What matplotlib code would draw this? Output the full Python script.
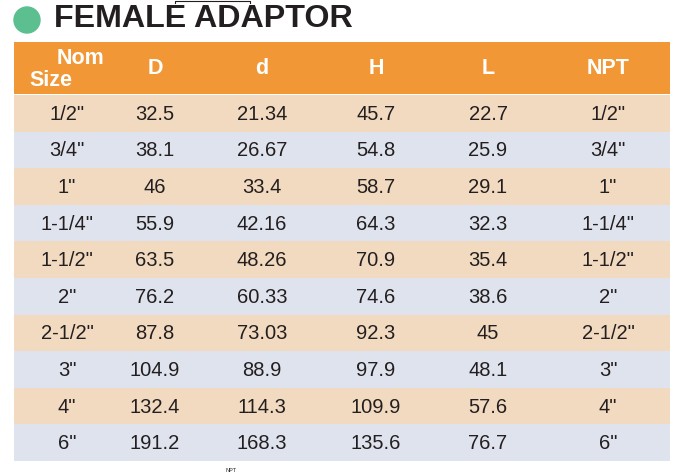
import matplotlib.pyplot as plt
from matplotlib.patches import Rectangle, Circle

# Dados da tabela
columns = ["D", "d", "H", "L", "NPT"]
nom_size = ['1/2"', '3/4"', '1"', '1-1/4"', '1-1/2"', '2"', '2-1/2"', '3"', '4"', '6"']
D = ["32.5", "38.1", "46", "55.9", "63.5", "76.2", "87.8", "104.9", "132.4", "191.2"]
d = ["21.34", "26.67", "33.4", "42.16", "48.26", "60.33", "73.03", "88.9", "114.3", "168.3"]
H = ["45.7", "54.8", "58.7", "64.3", "70.9", "74.6", "92.3", "97.9", "109.9", "135.6"]
L = ["22.7", "25.9", "29.1", "32.3", "35.4", "38.6", "45", "48.1", "57.6", "76.7"]
NPT = nom_size

title = "FEMALE ADAPTOR"

# Cores
orange = "#F29735"
peach = "#F2DAC0"
bluegray = "#DFE3ED"
green = "#5BBF8F"

fig = plt.figure(figsize=(6.84, 4.75), dpi=100)
ax = fig.add_axes([0, 0, 1, 1])
ax.set_xlim(0, 684)
ax.set_ylim(475, 0)
ax.axis("off")

fam = ["Liberation Sans", "DejaVu Sans"]

# Titulo
ax.add_patch(Circle((27, 20), 13, color=green))
ax.text(54, 19, title, fontsize=23.2, fontweight="bold", color="#231F20",
        va="center", ha="left", family=fam)

left, right = 14, 670
head_top, head_bot = 42, 94
row_h = 36.6
col_x = [67, 155, 262, 376, 488, 608]

# Cabecalho
ax.add_patch(Rectangle((left, head_top), right - left, head_bot - head_top, color=orange, lw=0))
ax.text(81, 58, "Nom", fontsize=15.5, fontweight="bold", color="white", ha="center", va="center", family=fam)
ax.text(51, 80, "Size", fontsize=15.5, fontweight="bold", color="white", ha="center", va="center", family=fam)
for x, c in zip(col_x[1:], columns):
    ax.text(x, 69, c, fontsize=15.5, fontweight="bold", color="white", ha="center", va="center", family=fam)

# Linhas
table = list(zip(nom_size, D, d, H, L, NPT))
for i, row in enumerate(table):
    y0 = head_bot + 1 + i * row_h
    ax.add_patch(Rectangle((left, y0), right - left, row_h,
                           color=peach if i % 2 == 0 else bluegray, lw=0))
    for x, val in zip(col_x, row):
        ax.text(x, y0 + row_h / 2 + 1, val, fontsize=14.5, color="#231F20",
                ha="center", va="center", family=fam)

# pequenos restos da imagem original
ax.plot([175, 175, 250, 250], [3, 1, 1, 3], color="#231F20", lw=0.8)
ax.text(231, 471, "NPT", fontsize=4, color="#231F20", ha="center", va="center", family=fam)

fig.savefig("out.png", dpi=100)
